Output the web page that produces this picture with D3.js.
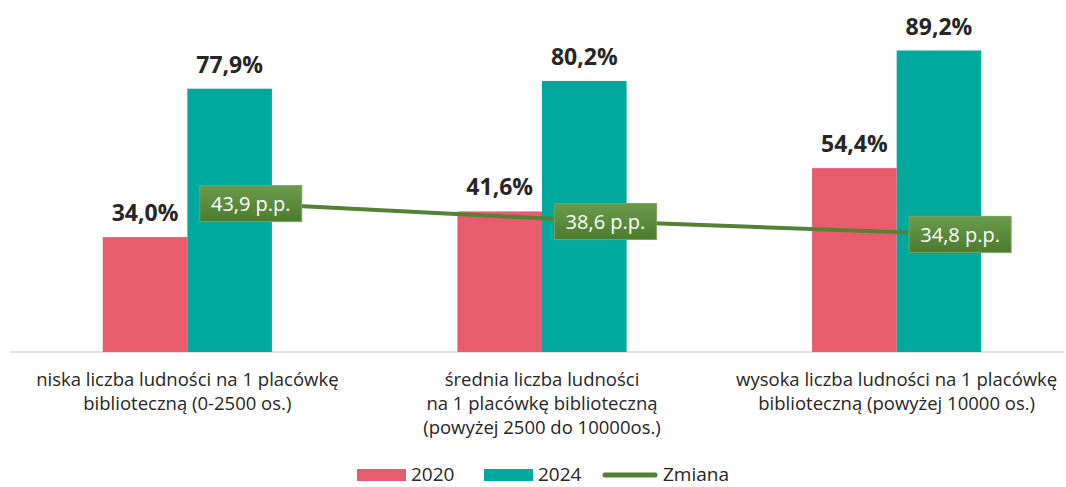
<!DOCTYPE html>
<html>
<head>
<meta charset="utf-8">
<script src="https://cdn.jsdelivr.net/npm/d3@7"></script>
<style>
  body { margin: 0; background: #fff; }
  text { font-family: "Open Sans", "Noto Sans", sans-serif; }
</style>
</head>
<body>
<script>
const categories = ["niska", "srednia", "wysoka"];
const categoryLabels = [
    ["niska liczba ludności na 1 placówkę", "biblioteczną (0-2500 os.)"],
    ["średnia liczba ludności", "na 1 placówkę biblioteczną", "(powyżej 2500 do 10000os.)"],
    ["wysoka liczba ludności na 1 placówkę", "biblioteczną (powyżej 10000 os.)"]
];
const series = ["2020", "2024"];
const values2020 = [34.0, 41.6, 54.4];
const values2024 = [77.9, 80.2, 89.2];
const change = [43.9, 38.6, 34.8];
const colors = {"2020": "#e95c6d", "2024": "#00a99e", line: "#548235"};

const W = 1066, H = 487;
const base = 352;

const svg = d3.select('body').append('svg')
    .attr('width', W)
    .attr('height', H);

const defs = svg.append('defs');
const grad = defs.append('linearGradient')
    .attr('id', 'boxGrad')
    .attr('x1', 0).attr('y1', 0).attr('x2', 0).attr('y2', 1);
grad.append('stop').attr('offset', '0%').attr('stop-color', '#6a9a4c');
grad.append('stop').attr('offset', '100%').attr('stop-color', '#4e7c2f');

const x0 = d3.scaleBand()
    .domain(categories)
    .range([10, 1074])
    .paddingInner(0)
    .paddingOuter(0);

const x1 = d3.scaleBand()
    .domain(series)
    .range([0, x0.bandwidth() * 0.477]);

const groupOffset = (x0.bandwidth() - x1.range()[1]) / 2;

const y = d3.scaleLinear()
    .domain([0, 100])
    .range([base, base - 338]);

const rows = categories.map((c, i) => ({
    cat: c,
    labels: categoryLabels[i],
    vals: [{s: "2020", v: values2020[i]}, {s: "2024", v: values2024[i]}],
    change: change[i]
}));

// axis line
const xAxis = d3.axisBottom(x0).tickSize(0).tickFormat('');
const xAxisGroup = svg.append('g')
    .attr('class', 'axis x-axis')
    .attr('transform', `translate(0, ${base})`)
    .call(xAxis);
xAxisGroup.select('.domain')
    .attr('stroke', '#d9d9d9')
    .attr('stroke-width', 1.3)
    .attr('d', `M10,0H1064`);

// bars
const groups = svg.append('g')
    .selectAll('g')
    .data(rows)
    .enter()
    .append('g')
    .attr('transform', d => `translate(${x0(d.cat) + groupOffset}, 0)`);

groups.selectAll('rect')
    .data(d => d.vals)
    .enter()
    .append('rect')
    .attr('x', d => x1(d.s))
    .attr('width', x1.bandwidth())
    .attr('y', d => y(d.v))
    .attr('height', d => base - y(d.v))
    .attr('fill', d => colors[d.s]);

groups.selectAll('text.val')
    .data(d => d.vals)
    .enter()
    .append('text')
    .attr('class', 'val')
    .attr('x', d => x1(d.s) + x1.bandwidth() / 2)
    .attr('y', d => y(d.v) - 16)
    .attr('text-anchor', 'middle')
    .attr('font-size', 23)
    .attr('font-weight', 'bold')
    .attr('fill', '#262626')
    .text(d => d3.format('.1f')(d.v).replace('.', ',') + '%');

// change line
const lx = d => x0(d.cat) + groupOffset + x1('2024') + x1.bandwidth() * 0.75;

const line = d3.line()
    .x(d => lx(d))
    .y(d => y(d.change));

svg.append('path')
    .datum(rows)
    .attr('d', line)
    .attr('fill', 'none')
    .attr('stroke', colors.line)
    .attr('stroke-width', 4)
    .attr('stroke-linecap', 'round');

const boxes = svg.append('g')
    .selectAll('g')
    .data(rows)
    .enter()
    .append('g')
    .attr('transform', d => `translate(${lx(d)}, ${y(d.change)})`);

boxes.append('rect')
    .attr('x', -51)
    .attr('y', -18)
    .attr('width', 102)
    .attr('height', 36)
    .attr('fill', 'url(#boxGrad)')
    .attr('stroke', '#7aa35c')
    .attr('stroke-width', 1);

boxes.append('text')
    .attr('text-anchor', 'middle')
    .attr('dy', '0.36em')
    .attr('font-size', 20)
    .attr('fill', '#fff')
    .text(d => d3.format('.1f')(d.change).replace('.', ',') + ' p.p.');

// category labels
const catLabels = svg.append('g')
    .selectAll('text')
    .data(rows)
    .enter()
    .append('text')
    .attr('x', d => x0(d.cat) + x0.bandwidth() / 2)
    .attr('y', 386)
    .attr('text-anchor', 'middle')
    .attr('font-size', 18.5)
    .attr('fill', '#262626');

catLabels.selectAll('tspan')
    .data(d => d.labels)
    .enter()
    .append('tspan')
    .attr('x', function() { return this.parentNode.getAttribute('x'); })
    .attr('dy', (d, i) => i === 0 ? 0 : 24)
    .text(d => d);

// legend
const legend = svg.append('g').attr('transform', 'translate(357, 475)');
const legendItems = [
    {name: "2020", type: "rect", color: colors["2020"], x: 0},
    {name: "2024", type: "rect", color: colors["2024"], x: 127},
    {name: "Zmiana", type: "line", color: colors.line, x: 246}
];
const li = legend.selectAll('g')
    .data(legendItems)
    .enter()
    .append('g')
    .attr('transform', d => `translate(${d.x}, 0)`);

li.filter(d => d.type === 'rect').append('rect')
    .attr('x', 0).attr('y', -6)
    .attr('width', 49).attr('height', 12)
    .attr('fill', d => d.color);

li.filter(d => d.type === 'line').append('line')
    .attr('x1', 2).attr('x2', 52)
    .attr('y1', 0).attr('y2', 0)
    .attr('stroke', d => d.color)
    .attr('stroke-width', 5)
    .attr('stroke-linecap', 'round');

li.append('text')
    .attr('x', d => d.type === 'rect' ? 54 : 60)
    .attr('y', 0)
    .attr('dy', '0.34em')
    .attr('font-size', 19)
    .attr('fill', '#262626')
    .text(d => d.name);
</script>
</body>
</html>
